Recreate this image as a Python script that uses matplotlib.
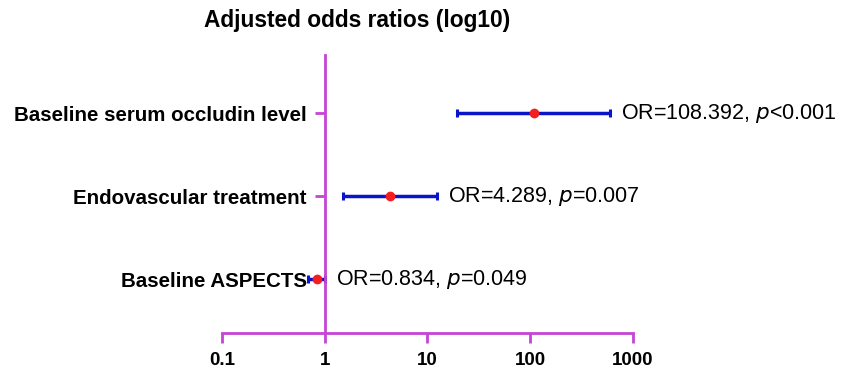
import matplotlib.pyplot as plt
import numpy as np

plt.rcParams['font.family'] = ['Liberation Sans', 'DejaVu Sans']

# data
variables = ['Baseline serum occludin level', 'Endovascular treatment', 'Baseline ASPECTS']
odds = [108.392, 4.289, 0.834]
ci_low = [19.6, 1.5, 0.69]
ci_high = [600.0, 12.3, 1.0]
p_text = ['<0.001', '=0.007', '=0.049']
xticks = [0.1, 1, 10, 100, 1000]
xtick_labels = ['0.1', '1', '10', '100', '1000']

magenta = '#C544D4'
blue = '#0A14C8'
red = '#F51E1E'

fig = plt.figure(figsize=(8.47, 3.69), dpi=100)
ax = fig.add_axes([0.262, 0.0976, 0.485, 0.753])

# spine position first, it resets the ticks
for side in ['top', 'right']:
    ax.spines[side].set_visible(False)
ax.spines['left'].set_position(('data', 1))

ypos = np.arange(len(variables))[::-1] + 1
odds = np.array(odds)
err = np.array([odds - np.array(ci_low), np.array(ci_high) - odds])

ax.errorbar(odds, ypos, xerr=err, fmt='none', ecolor=blue, elinewidth=2.5,
            capsize=2.6, capthick=2.2, zorder=2)
ax.plot(odds, ypos, 'o', color=red, markersize=6, zorder=3)

for y, hi, o, p in zip(ypos, ci_high, odds, p_text):
    ax.annotate('OR=%.3f, $\\it{p}$%s' % (o, p), xy=(hi, y), xytext=(8, 0),
                textcoords='offset points', va='center', ha='left', fontsize=15.5)

ax.set_xscale('log')
ax.set_xlim(0.1, 1000)
ax.set_ylim(0.35, 3.7)
ax.set_xticks(xticks)
ax.set_xticklabels(xtick_labels, fontsize=13.5, fontweight='bold')
ax.minorticks_off()
ax.set_yticks(ypos)
ax.set_yticklabels(variables, fontsize=14.8, fontweight='bold')

for side in ['left', 'bottom']:
    ax.spines[side].set_color(magenta)
    ax.spines[side].set_linewidth(2)
ax.tick_params(axis='both', colors=magenta, width=2, length=7.5)
ax.tick_params(axis='x', labelcolor='black', pad=6)
ax.tick_params(axis='y', labelcolor='black', pad=5.5)

fig.text(204 / 847, 1 - 21 / 369, 'Adjusted odds ratios (log10)', ha='left', va='center',
         fontsize=16.4, fontweight='bold')

fig.savefig('out.png', dpi=100)
